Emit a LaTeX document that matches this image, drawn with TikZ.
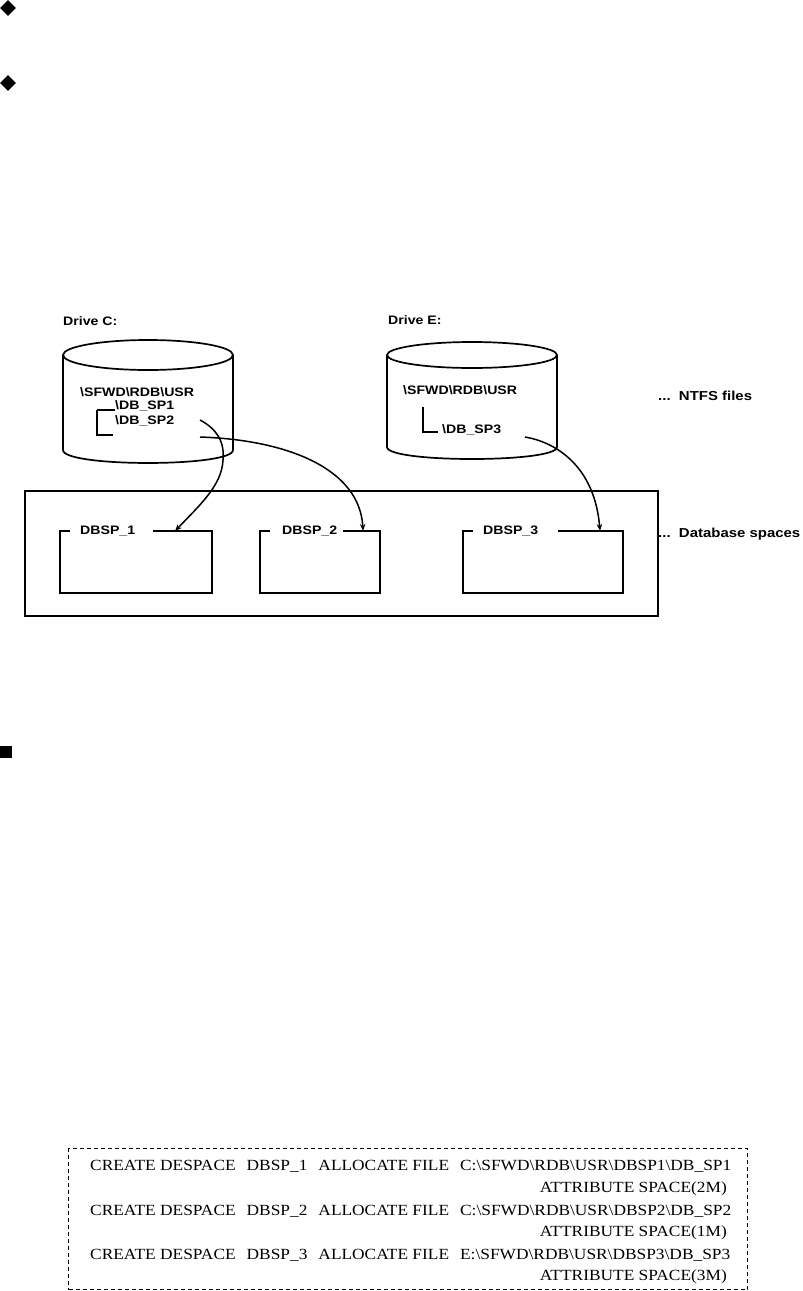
\documentclass[tikz,border=0pt]{standalone}
\usepackage{fontspec}
\newfontfamily\lblfont[FakeStretch=1.15]{Liberation Sans}
\newfontfamily\codefont[FakeStretch=1.12]{Liberation Serif}
\usetikzlibrary{shapes.geometric,arrows.meta,calc}
\newcommand{\bsl}{\textbackslash}
\newcommand{\gp}{\hspace{11pt}}
\begin{document}
\begin{tikzpicture}[x=1pt,y=-1pt,
  lbl/.style={font=\lblfont\bfseries\fontsize{12.3}{14}\selectfont, inner sep=0pt, anchor=west},
  biglbl/.style={font=\lblfont\bfseries\fontsize{13}{15}\selectfont, inner sep=0pt, anchor=west},
  code/.style={font=\codefont\fontsize{15.5}{18}\selectfont, inner sep=0pt},
  boxline/.style={line width=2pt},
  cyl/.style={line width=1.7pt},
  conn/.style={line width=1.5pt, -{Stealth[length=7pt,width=5.5pt]}},
  holder/.style={draw=none, inner sep=0pt, anchor=north west},
  bullet/.style={diamond, fill=black, draw=none, inner sep=0pt, minimum size=16pt}
]
\useasboundingbox (0,0) rectangle (803,1291);

% bullets
\node[bullet] (d1) at (8,8) {};
\node[bullet] (d2) at (8,83) {};
\node[fill=black, inner sep=0pt, minimum size=12pt] (sq) at (6,752) {};

% drive labels
\node[lbl] (drvC) at (63,321) {Drive C:};
\node[lbl] (drvE) at (388,320) {Drive E:};

% cylinder C
\draw[cyl] (148,355) ellipse [x radius=85, y radius=15];
\draw[cyl] (63,355) -- (63,450) .. controls (63,467.3) and (233,467.3) .. (233,450) -- (233,355);
% cylinder E
\draw[cyl] (472,355) ellipse [x radius=85, y radius=13];
\draw[cyl] (387,355) -- (387,447) .. controls (387,463) and (557,463) .. (557,447) -- (557,355);

% texts in cylinders
\node[lbl] (pathC) at (80,392) {\bsl SFWD\bsl RDB\bsl USR};
\node[lbl] (sp1) at (115,406) {\bsl DB\_SP1};
\node[lbl] (sp2) at (115,421) {\bsl DB\_SP2};
\draw[line width=1.5pt] (97,410) -- (115,410);
\draw[line width=1.5pt] (97,410) -- (97,435) -- (113,435);

\node[lbl] (pathE) at (403,390) {\bsl SFWD\bsl RDB\bsl USR};
\node[lbl] (sp3) at (442,430) {\bsl DB\_SP3};
\draw[line width=1.5pt] (423,407) -- (423,432) -- (438,432);

\node[biglbl] (ntfs) at (658,396) {...\ \ NTFS files};

% outer database-space frame
\node[holder, draw, line width=1.5pt, minimum width=633pt, minimum height=125pt] (outer) at (24,490) {};
\node[biglbl] (dbs) at (658,534) {...\ \ Database spaces};

% DBSP boxes
\node[holder, minimum width=152pt, minimum height=62pt] (b1) at (60,531) {};
\node[holder, minimum width=120pt, minimum height=62pt] (b2) at (260,531) {};
\node[holder, minimum width=160pt, minimum height=62pt] (b3) at (463,531) {};
\draw[boxline] ($(b1.north west)+(10,0)$) -- (b1.north west) -- (b1.south west) -- (b1.south east) -- (b1.north east) -- ($(b1.north west)+(93,0)$);
\draw[boxline] ($(b2.north west)+(10,0)$) -- (b2.north west) -- (b2.south west) -- (b2.south east) -- (b2.north east) -- ($(b2.north west)+(83,0)$);
\draw[boxline] ($(b3.north west)+(10,0)$) -- (b3.north west) -- (b3.south west) -- (b3.south east) -- (b3.north east) -- ($(b3.north west)+(95,0)$);
\node[lbl] (l1) at (80,531) {DBSP\_1};
\node[lbl] (l2) at (282,531) {DBSP\_2};
\node[lbl] (l3) at (483,531) {DBSP\_3};

% connectors
\coordinate (cA) at (200,420);
\coordinate (cB) at (200,437);
\coordinate (cC) at (525,437);
\coordinate (tA) at ($(b1.north west)+(115,0)$);
\coordinate (tB) at ($(b2.north west)+(103,0)$);
\coordinate (tC) at ($(b3.north west)+(137,0)$);
\draw[conn] (cA) .. controls (215,428) and (225,440) .. (223,460) .. controls (222,485) and (200,505) .. (tA);
\draw[conn] (cB) .. controls (290,440) and (360,470) .. (tB);
\draw[conn] (cC) .. controls (560,443) and (595,470) .. (tC);

% SQL box
\node[holder, draw, dash pattern=on 4pt off 3pt, line width=1.2pt, minimum width=679pt, minimum height=141pt] (codebox) at (68,1148) {};
\node[code, anchor=west] (r1) at (90,1166) {CREATE DESPACE\gp DBSP\_1\gp ALLOCATE FILE\gp C:\bsl SFWD\bsl RDB\bsl USR\bsl DBSP1\bsl DB\_SP1};
\node[code, anchor=east] (r2) at (727,1189) {ATTRIBUTE SPACE(2M)};
\node[code, anchor=west] (r3) at (90,1211) {CREATE DESPACE\gp DBSP\_2\gp ALLOCATE FILE\gp C:\bsl SFWD\bsl RDB\bsl USR\bsl DBSP2\bsl DB\_SP2};
\node[code, anchor=east] (r4) at (727,1233) {ATTRIBUTE SPACE(1M)};
\node[code, anchor=west] (r5) at (90,1255) {CREATE DESPACE\gp DBSP\_3\gp ALLOCATE FILE\gp E:\bsl SFWD\bsl RDB\bsl USR\bsl DBSP3\bsl DB\_SP3};
\node[code, anchor=east] (r6) at (727,1277) {ATTRIBUTE SPACE(3M)};
\end{tikzpicture}
\end{document}
